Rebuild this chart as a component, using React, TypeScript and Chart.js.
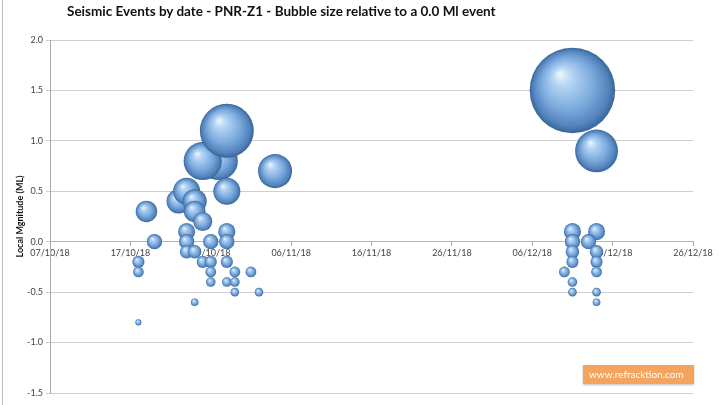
import { useEffect, useRef } from 'react';
import { Chart, registerables } from 'chart.js';

Chart.register(...registerables);

// event dates (dd/mm/yy) and local magnitudes
const eventDates = [
    '18/10/18', '18/10/18', '18/10/18', '19/10/18', '20/10/18', '23/10/18',
    '24/10/18', '25/10/18', '24/10/18', '24/10/18', '24/10/18', '25/10/18',
    '25/10/18', '25/10/18', '28/10/18', '26/10/18', '26/10/18', '26/10/18',
    '27/10/18', '27/10/18', '27/10/18', '27/10/18', '29/10/18', '29/10/18',
    '29/10/18', '29/10/18', '29/10/18', '29/10/18', '30/10/18', '30/10/18',
    '30/10/18', '01/11/18', '02/11/18', '04/11/18',
    '11/12/18', '14/12/18', '11/12/18', '11/12/18', '11/12/18', '11/12/18',
    '10/12/18', '11/12/18', '11/12/18', '14/12/18', '13/12/18', '14/12/18',
    '14/12/18', '14/12/18', '14/12/18', '14/12/18',
];
const magnitudes = [
    -0.8, -0.2, -0.3, 0.3, 0.0, 0.4,
    0.5, 0.4, 0.1, 0.0, -0.1, 0.3,
    -0.1, -0.6, 0.8, 0.8, 0.2, -0.2,
    0.0, -0.2, -0.3, -0.4, 1.1, 0.5,
    0.1, 0.0, -0.2, -0.4, -0.3, -0.4,
    -0.5, -0.3, -0.5, 0.7,
    1.5, 0.9, 0.1, 0.0, -0.1, -0.2,
    -0.3, -0.4, -0.5, 0.1, 0.0, -0.1,
    -0.2, -0.3, -0.5, -0.6,
];

const START = Date.UTC(2018, 9, 7);
const DAY = 86400000;
const TICK_DAYS = 10;
const END_DAYS = 80;

const toDays = (s: string) => {
    const [d, m, y] = s.split('/').map(Number);
    return Math.round((Date.UTC(2000 + y, m - 1, d) - START) / DAY);
};
const fmtDay = (n: number) => {
    const d = new Date(START + n * DAY);
    const p = (v: number) => String(v).padStart(2, '0');
    return `${p(d.getUTCDate())}/${p(d.getUTCMonth() + 1)}/${String(d.getUTCFullYear()).slice(2)}`;
};
// bubble radius relative to a 0.0 ML event
const radiusFor = (ml: number) => 7.6 * Math.pow(10, ml / 2);

export default function App() {
    const canvasRef = useRef<HTMLCanvasElement>(null);
    const chartRef = useRef<Chart | null>(null);

    useEffect(() => {
        document.body.style.margin = '0';
        if (!canvasRef.current) return;
        chartRef.current?.destroy();

        const points = eventDates.map((d, i) => ({ x: toDays(d), y: magnitudes[i], r: radiusFor(magnitudes[i]) }));

        const shade = (ctx: any) => {
            const chart = ctx.chart;
            const raw = ctx.raw;
            const xs = chart.scales?.x;
            const ys = chart.scales?.y;
            if (!raw || !xs || !ys || !chart.chartArea) return '#7aa8d8';
            const px = xs.getPixelForValue(raw.x);
            const py = ys.getPixelForValue(raw.y);
            const r = raw.r;
            const g = chart.ctx.createRadialGradient(px - r * 0.3, py - r * 0.4, 0, px, py, r);
            g.addColorStop(0, '#f0f8ff');
            g.addColorStop(0.22, '#b5d5f3');
            g.addColorStop(0.6, '#7cabde');
            g.addColorStop(0.88, '#5383bc');
            g.addColorStop(1, '#38659a');
            return g;
        };

        chartRef.current = new Chart(canvasRef.current, {
            type: 'bubble',
            data: {
                datasets: [
                    {
                        label: 'Events',
                        data: points,
                        backgroundColor: shade,
                        borderWidth: 0,
                        hoverBorderWidth: 0,
                        clip: false,
                    },
                ],
            } as any,
            options: {
                responsive: false,
                animation: false,
                events: [],
                layout: { autoPadding: false, padding: { top: 40, left: 5, right: 26, bottom: 12 } },
                plugins: {
                    legend: { display: false },
                    tooltip: { enabled: false },
                    title: { display: false },
                },
                scales: {
                    x: {
                        type: 'linear',
                        position: { y: 0 } as any,
                        min: 0,
                        max: END_DAYS,
                        afterFit: (s: any) => { s.height = 0; s.paddingLeft = 0; s.paddingRight = 0; },
                        grid: { drawOnChartArea: false, drawTicks: true, tickLength: 4, color: '#a8a8a8' },
                        border: { color: '#b4b4b4' },
                        ticks: {
                            stepSize: TICK_DAYS,
                            maxRotation: 0,
                            padding: 2,
                            color: '#444',
                            font: { family: 'Lato', size: 9 },
                            callback: (v: any) => fmtDay(Number(v)),
                        },
                    },
                    y: {
                        min: -1.5,
                        max: 2,
                        afterFit: (s: any) => { s.width = 45; s.paddingTop = 0; s.paddingBottom = 0; },
                        grid: { color: '#cfcfcf', tickLength: 4 },
                        border: { color: '#a8a8a8' },
                        ticks: {
                            stepSize: 0.5,
                            padding: 3,
                            color: '#444',
                            font: { family: 'Lato', size: 9 },
                            callback: (v: any) => Number(v).toFixed(1),
                        },
                        title: {
                            display: true,
                            text: 'Local Mgnitude (ML)',
                            color: '#111',
                            padding: { top: 10, bottom: 0 },
                            font: { family: 'Lato', size: 9, weight: 'bold' },
                        },
                    },
                },
            },
        });

        return () => { chartRef.current?.destroy(); };
    }, []);

    return (
        <div style={{ position: 'relative', width: 719, height: 405, background: '#fff', overflow: 'hidden' }}>
            <canvas ref={canvasRef} width={719} height={405} style={{ display: 'block' }} />
            <div style={{ position: 'absolute', left: 2, top: 0, width: 1, height: 405, background: '#bdbdbd' }} />
            <div
                style={{
                    position: 'absolute', left: 67, top: 3, fontFamily: 'Lato', fontWeight: 'bold',
                    fontSize: 13.5, color: '#111', whiteSpace: 'nowrap',
                }}
            >
                Seismic Events by date - PNR-Z1 - Bubble size relative to a 0.0 Ml event
            </div>
            <div
                style={{
                    position: 'absolute', left: 583, top: 365, width: 111, height: 19, background: '#f4a45c',
                    color: '#fff', fontFamily: 'Lato', fontSize: 10, lineHeight: '19px', paddingLeft: 6,
                    boxSizing: 'border-box', boxShadow: '0 1px 2px rgba(0,0,0,0.25)',
                }}
            >
                www.refracktion.com
            </div>
        </div>
    );
}
